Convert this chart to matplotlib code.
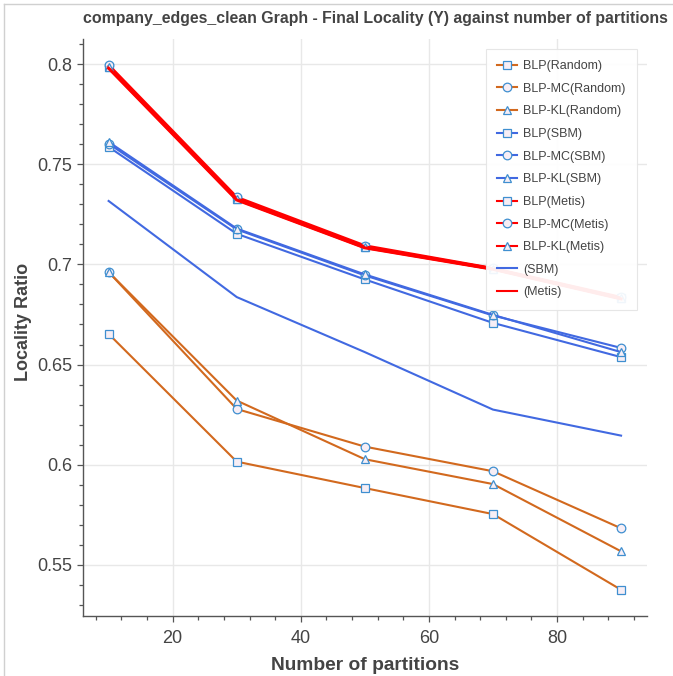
import matplotlib
matplotlib.use("Agg")
import matplotlib.pyplot as plt
from matplotlib.lines import Line2D
from matplotlib.ticker import MultipleLocator

plt.rcParams['font.family'] = ['Liberation Sans', 'DejaVu Sans']

partitions = [10, 30, 50, 70, 90]

blp_random = [0.6653, 0.6015, 0.5883, 0.5753, 0.5375]
mc_random = [0.6962, 0.6278, 0.6090, 0.5967, 0.5682]
kl_random = [0.6962, 0.6320, 0.6027, 0.5903, 0.5567]

blp_sbm = [0.7587, 0.7153, 0.6925, 0.6708, 0.6537]
mc_sbm = [0.7603, 0.7175, 0.6945, 0.6745, 0.6583]
kl_sbm = [0.7612, 0.7179, 0.6950, 0.6748, 0.6562]

blp_metis = [0.7984, 0.7325, 0.7085, 0.6978, 0.6830]
mc_metis = [0.7995, 0.7335, 0.7093, 0.6980, 0.6835]
kl_metis = [0.7988, 0.7328, 0.7088, 0.6978, 0.6832]

sbm_only = [0.7317, 0.6837, 0.6562, 0.6275, 0.6145]
metis_only = [0.7980, 0.7322, 0.7083, 0.6976, 0.6828]

series = [
    ("BLP(Random)", blp_random, "#d2691e", "s"),
    ("BLP-MC(Random)", mc_random, "#d2691e", "o"),
    ("BLP-KL(Random)", kl_random, "#d2691e", "^"),
    ("BLP(SBM)", blp_sbm, "#4169e1", "s"),
    ("BLP-MC(SBM)", mc_sbm, "#4169e1", "o"),
    ("BLP-KL(SBM)", kl_sbm, "#4169e1", "^"),
    ("BLP(Metis)", blp_metis, "#ff0000", "s"),
    ("BLP-MC(Metis)", mc_metis, "#ff0000", "o"),
    ("BLP-KL(Metis)", kl_metis, "#ff0000", "^"),
]
plain = [
    ("(SBM)", sbm_only, "#4169e1"),
    ("(Metis)", metis_only, "#ff0000"),
]

W, H = 673, 676
fig = plt.figure(figsize=(W / 100, H / 100), dpi=100)
ax = fig.add_axes([83 / W, 1 - 616 / H, (646.7 - 83) / W, (616 - 39) / H])

marker_face = "#f7eef5"
marker_edge = "#3f8fd0"
text_c = "#444444"

for label, vals, color, mk in series:
    lw = 2.2 if "Metis" in label else 1.5
    ax.plot(partitions, vals, color=color, lw=lw, marker=mk, ms=6.2,
            mfc=marker_face, mec=marker_edge, mew=0.9, label=label, zorder=3)
for label, vals, color in plain:
    lw = 2.2 if "Metis" in label else 1.5
    ax.plot(partitions, vals, color=color, lw=lw, label=label, zorder=3)

ax.set_xlim(6, 94)
ax.set_ylim(0.5244, 0.8126)
ax.xaxis.set_major_locator(MultipleLocator(20))
ax.xaxis.set_minor_locator(MultipleLocator(4))
ax.yaxis.set_major_locator(MultipleLocator(0.05))
ax.yaxis.set_minor_locator(MultipleLocator(0.01))
ax.set_yticks([0.55, 0.6, 0.65, 0.7, 0.75, 0.8])
ax.set_yticklabels(["0.55", "0.6", "0.65", "0.7", "0.75", "0.8"])

ax.grid(True, which="major", color="#e8e8e8", lw=1.0, zorder=0)
ax.set_axisbelow(True)
for s in ["top", "right"]:
    ax.spines[s].set_visible(False)
for s in ["left", "bottom"]:
    ax.spines[s].set_color("#555555")
    ax.spines[s].set_linewidth(1.0)
ax.tick_params(which="major", direction="out", length=4.3, width=0.9, colors="#555555",
               labelsize=13, labelcolor=text_c)
ax.tick_params(axis="x", which="major", pad=6)
ax.tick_params(which="minor", direction="out", length=2.9, width=0.9, colors="#555555")

ax.set_xlabel("Number of partitions", fontsize=13.8, fontweight="bold", color=text_c, labelpad=7)
ax.set_ylabel("Locality Ratio", fontsize=13, fontweight="bold", color=text_c)
ax.yaxis.set_label_coords(-0.0905, 0.51)

fig.text(83 / W, 1 - 18 / H, "company_edges_clean Graph - Final Locality (Y) against number of partitions",
         fontsize=11.45, fontweight="bold", color=text_c, ha="left", va="center")

leg = ax.legend(loc="upper right", bbox_to_anchor=(0.9823, 0.9827), borderaxespad=0,
                fontsize=9, frameon=True, framealpha=0.93, edgecolor="#e5e5e5",
                fancybox=False, handlelength=1.6, handletextpad=0.45, labelspacing=0.85,
                borderpad=0.9, numpoints=1, labelcolor=text_c)
leg.get_frame().set_linewidth(0.8)
leg.set_zorder(5)
for h in leg.legend_handles:
    h.set_linewidth(1.5)

fig.add_artist(Line2D([4 / W, 4 / W], [0, 1 - 4 / H], color="#d0d0d0", lw=1.0))
fig.add_artist(Line2D([4 / W, 1], [1 - 4 / H, 1 - 4 / H], color="#d0d0d0", lw=1.0))

fig.savefig("out.png", dpi=100)
